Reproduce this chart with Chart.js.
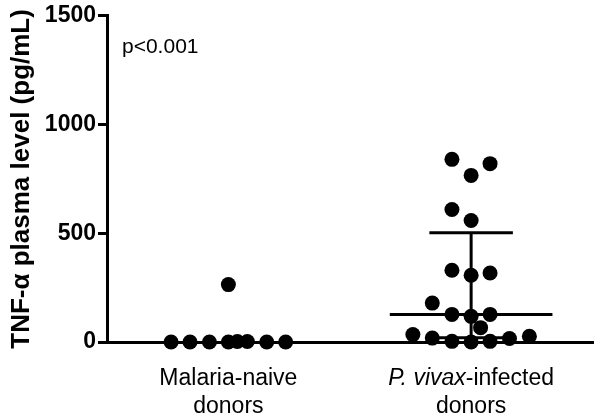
<!DOCTYPE html>
<html>
<head>
<meta charset="utf-8">
<script src="https://cdn.jsdelivr.net/npm/chart.js@4/dist/chart.umd.min.js"></script>
<style>
  body { margin: 0; background: #fff; }
  #wrap { width: 600px; height: 419px; }
</style>
</head>
<body>
<div id="wrap"><canvas id="grafico" width="600" height="419"></canvas></div>
<script>
// categories
var groupNames = [["Malaria-naive", "donors"], ["P. vivax", "-infected", "donors"]];
var groupCenters = [0.5, 1.5];

// individual donors (pg/mL) and their horizontal scatter offset within the group
var naiveValues = [0, 0, 0, 0, 2, 2, 0, 0, 264];
var naiveOffsets = [-0.236, -0.158, -0.078, 0, 0.037, 0.078, 0.158, 0.236, 0];

var vivaxValues = [840, 820, 766, 609, 559, 330, 307, 317, 179, 127, 118, 127, 66, 34, 18, 3, 0, 3, 16, 26];
var vivaxOffsets = [-0.079, 0.078, 0, -0.079, 0, -0.079, 0, 0.078, -0.16, -0.079, 0, 0.078, 0.039, -0.24, -0.16, -0.079, 0, 0.078, 0.158, 0.24];

// median with interquartile range
var medians = [0, 127];
var q1 = [0, 20];
var q3 = [0, 502];

var yTicks = [0, 500, 1000, 1500];
var pText = "p<0.001";

var fam = '"Liberation Sans", Arial, sans-serif';

function points(values, offsets, center) {
    var out = [];
    for (var i = 0; i < values.length; i++) {
        out.push({ x: center + offsets[i], y: values[i] });
    }
    return out;
}

// median bar, whiskers and vertical line, with gaps between pieces
// (a group whose median and quartiles all sit at 0 is hidden by the axis anyway)
function summaryLine(g) {
    var c = groupCenters[g];
    var mw = 0.335, ww = 0.172;
    if (q3[g] === 0) return [];
    return [
        { x: c - mw, y: medians[g] }, { x: c + mw, y: medians[g] }, { x: c, y: null },
        { x: c - ww, y: q3[g] }, { x: c + ww, y: q3[g] }, { x: c, y: null },
        { x: c - ww, y: q1[g] }, { x: c + ww, y: q1[g] }, { x: c, y: null },
        { x: c, y: q1[g] }, { x: c, y: q3[g] }
    ];
}

var labelPlugin = {
    id: "labelPlugin",
    afterDraw: function (chart) {
        var ctx = chart.ctx;
        var xs = chart.scales.x;
        ctx.save();
        ctx.fillStyle = "#000";
        ctx.textBaseline = "alphabetic";

        // p value
        ctx.font = "21px " + fam;
        ctx.textAlign = "left";
        ctx.fillText(pText, chart.chartArea.left + 15, 53);

        // group 1
        var x0 = xs.getPixelForValue(groupCenters[0]);
        ctx.font = "23px " + fam;
        ctx.textAlign = "center";
        ctx.fillText(groupNames[0][0], x0, 385);
        ctx.fillText(groupNames[0][1], x0, 413);

        // group 2 (species name in italics)
        var x1 = xs.getPixelForValue(groupCenters[1]);
        ctx.font = "italic 23px " + fam;
        var w1 = ctx.measureText(groupNames[1][0]).width;
        ctx.font = "23px " + fam;
        var w2 = ctx.measureText(groupNames[1][1]).width;
        var start = x1 - (w1 + w2) / 2;
        ctx.textAlign = "left";
        ctx.font = "italic 23px " + fam;
        ctx.fillText(groupNames[1][0], start, 385);
        ctx.font = "23px " + fam;
        ctx.fillText(groupNames[1][1], start + w1, 385);
        ctx.textAlign = "center";
        ctx.fillText(groupNames[1][2], x1, 413);
        ctx.restore();
    }
};

var ctx = document.getElementById("grafico");
var grafico = new Chart(ctx, {
    type: "scatter",
    data: {
        datasets: [
            {
                type: "line", data: summaryLine(0), showLine: true, spanGaps: false, clip: false,
                borderColor: "#000", borderWidth: 3, pointRadius: 0, borderCapStyle: "butt", order: 2
            },
            {
                type: "line", data: summaryLine(1), showLine: true, spanGaps: false, clip: false,
                borderColor: "#000", borderWidth: 3, pointRadius: 0, borderCapStyle: "butt", order: 2
            },
            {
                data: points(naiveValues, naiveOffsets, groupCenters[0]), clip: false,
                backgroundColor: "#000", borderWidth: 0, pointRadius: 7.5, order: 1
            },
            {
                data: points(vivaxValues, vivaxOffsets, groupCenters[1]), clip: false,
                backgroundColor: "#000", borderWidth: 0, pointRadius: 7.5, order: 1
            }
        ]
    },
    options: {
        responsive: false,
        animation: false,
        layout: { padding: { left: 0, right: 7, top: 15, bottom: 0 } },
        plugins: { legend: { display: false }, tooltip: { enabled: false } },
        scales: {
            x: {
                type: "linear", min: 0, max: 2,
                afterBuildTicks: function (scale) {
                    scale.ticks = groupCenters.map(function (v) { return { value: v }; });
                },
                afterFit: function (scale) { scale.height = 77; },
                ticks: { display: false },
                grid: { drawOnChartArea: false, drawTicks: true, tickLength: 7, lineWidth: 2, color: "#000" },
                border: { display: true, width: 3, color: "#000" }
            },
            y: {
                min: 0, max: 1500,
                afterBuildTicks: function (scale) {
                    scale.ticks = yTicks.map(function (v) { return { value: v }; });
                },
                afterFit: function (scale) { scale.width = 107; },
                ticks: {
                    color: "#000", padding: 2,
                    font: { family: fam, size: 23, weight: "bold" },
                    callback: function (v) { return String(v); }
                },
                grid: { drawOnChartArea: false, drawTicks: true, tickLength: 9, lineWidth: 3, color: "#000" },
                border: { display: true, width: 3, color: "#000" },
                title: {
                    display: true, text: "TNF-\u03b1 plasma level (pg/mL)", color: "#000",
                    font: { family: fam, size: 26, weight: "bold" },
                    padding: { top: 6, bottom: 0 }
                }
            }
        }
    },
    plugins: [labelPlugin]
});
</script>
</body>
</html>
